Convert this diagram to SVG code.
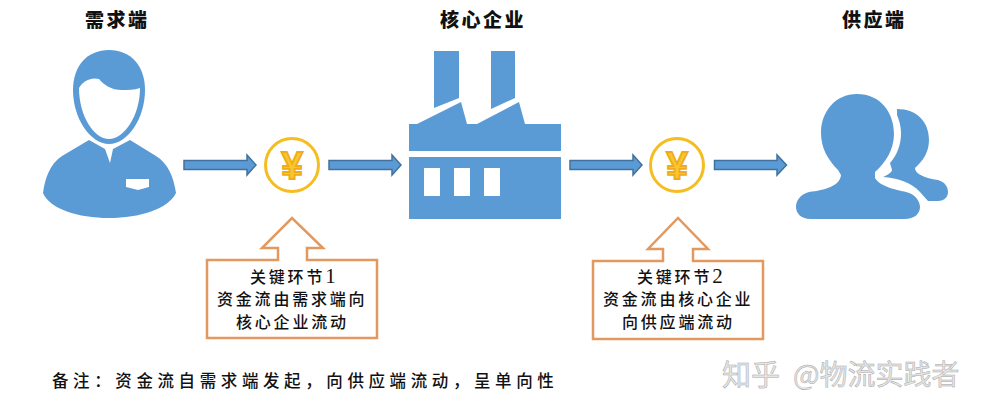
<svg xmlns="http://www.w3.org/2000/svg" width="985" height="413" viewBox="0 0 985 413">
<style>
text{font-family:"Noto Sans CJK SC","Liberation Serif",serif;fill:#111}
.title{font-size:19px;font-weight:900;letter-spacing:2.5px}
.box{font-size:16px;font-weight:500;letter-spacing:2.8px}
.num{font-family:"Liberation Serif",serif;font-size:21px;letter-spacing:0}
.note{font-size:16.500px;font-weight:500;letter-spacing:4.600px}
.blue{fill:#5b9bd5}
.white{fill:#fff}
.arrow{fill:#5b9bd5;stroke:#41719c;stroke-width:1.500}
.coin{fill:#fff;stroke:#f5bd1f;stroke-width:3}
.yen{font-family:"Liberation Sans",sans-serif;font-size:39px;font-weight:700;fill:#fbc531;stroke:#eead18;stroke-width:1.800}
.call{fill:#fff;stroke:#e2995f;stroke-width:2.500}
.wm{font-family:"Noto Sans CJK SC","Liberation Sans",sans-serif;fill:#e6e6e6;stroke:#a8a8a8;stroke-width:.5}
</style>
<rect width="985" height="413" fill="#fff"/>
<g id="connectors">
<path class="arrow" d="M184 160.500H247V155L256 165L247 175V169.500H184Z"/>
<path class="arrow" d="M329 160.500H392V155L401 165L392 175V169.500H329Z"/>
<path class="arrow" d="M570 160.500H633V155L642 165L633 175V169.500H570Z"/>
<path class="arrow" d="M714.500 160.500H777V155L786.500 165L777 175V169.500H714.500Z"/>
</g>
<g id="demand">
<text class="title" x="85" y="27">需求端</text>
<path class="blue" d="M109 50C131 50 145 66 145 90C145 118 128 144 109 144C90 144 73 118 73 90C73 66 87 50 109 50Z"/>
<path class="white" d="M79 88C83 81 91 77 99 79C104 85 111 90 122 90C128 90 134 90 140 88C140 116 124 139 109 139C94 139 79 116 79 88Z"/>
<path class="blue" d="M89 140L105 149L110 163L113 149L130 140L156 156C168 163 174 178 176 193C168 209 140 218 109 218C78 218 50 209 43 193C45 178 50 164 62 156Z"/>
<path class="white" d="M126 179H149V187L138 190L126 187Z"/>
</g>
<g id="core">
<text class="title" x="440" y="27">核心企业</text>
<path class="blue" d="M434 51H459V98L434 108Z"/>
<path class="blue" d="M491 51H515V98L491 109Z"/>
<path class="blue" d="M409 124H417L461 102L467 124H477L519 102L525 124H561V151H409Z"/>
<path class="blue" d="M409 157H561V219H409Z"/>
<rect class="white" x="424" y="168" width="16" height="28"/>
<rect class="white" x="454" y="168" width="16" height="28"/>
<rect class="white" x="484" y="168" width="16" height="28"/>
</g>
<g id="supply">
<text class="title" x="842" y="27">供应端</text>
<path class="blue" d="M897 109C917 109 929 122 929 140C929 152 923 161 915 168C915 174 925 178 938 180C945 182 948 187 948 192C948 198 943 201 938 201H928L920 192C912 183 898 178 883 177C888 175 892 172 892 170L890 163C897 155 901 145 901 133C901 126 899 120 897 115Z"/>
<path class="blue" d="M857 94C880 94 894 112 894 134C894 150 885 163 875 172V178C880 187 898 190 906 192C915 194 920 201 920 207C920 214 914 219 905 219H810C802 219 796 214 796 207C796 200 801 194 809 192C825 190 840 186 841 175L838 170C828 160 821 148 821 133C821 112 835 94 857 94Z"/>
</g>
<g id="coin1">
<circle class="coin" cx="292" cy="165" r="26.500"/>
<text class="yen" x="292" y="179" text-anchor="middle">¥</text>
</g>
<g id="coin2">
<circle class="coin" cx="677" cy="165" r="26.500"/>
<text class="yen" x="677" y="179" text-anchor="middle">¥</text>
</g>
<g id="callout1">
<path class="call" d="M207 260H278V248H262L292 218L323 248H307V260H377V338H207Z"/>
<text class="box" x="250" y="283">关键环节<tspan class="num">1</tspan></text>
<text class="box" x="217" y="305">资金流由需求端向</text>
<text class="box" x="236" y="328">核心企业流动</text>
</g>
<g id="callout2">
<path class="call" d="M593 261H663V249H648L678 218L708 249H693V261H763V339H593Z"/>
<text class="box" x="637" y="283">关键环节<tspan class="num">2</tspan></text>
<text class="box" x="603" y="305">资金流由核心企业</text>
<text class="box" x="622" y="328">向供应端流动</text>
</g>
<text class="note" x="52" y="387">备注：资金流自需求端发起，向供应端流动，呈单向性</text>
<text class="wm" x="722" y="386" font-size="29">知乎</text>
<text class="wm" x="793" y="385" font-size="28">@物流实践者</text>
</svg>
